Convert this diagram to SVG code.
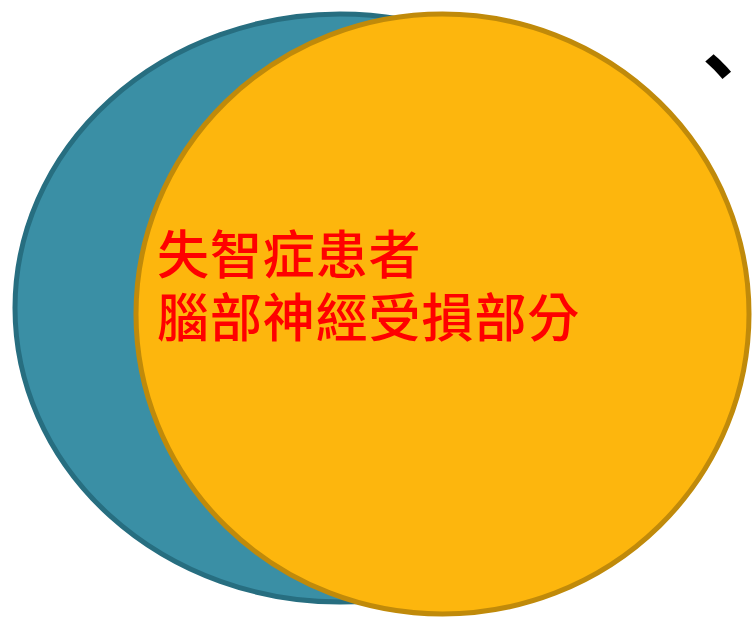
<svg xmlns="http://www.w3.org/2000/svg" width="752" height="619" viewBox="0 0 752 619">
<style>
.label{font-family:"Noto Sans CJK TC","Noto Sans CJK SC",sans-serif;font-weight:500;font-size:52px;letter-spacing:0.9px;fill:#FF0000}
.mark{font-family:"Noto Sans CJK TC","Noto Sans CJK SC",sans-serif;font-weight:bold;font-size:80px;fill:#000000}
</style>
<rect width="752" height="619" fill="#FFFFFF"/>
<g id="teal-circle">
<ellipse cx="340" cy="308" rx="325" ry="294" fill="#3A8FA5" stroke="#276E80" stroke-width="5"/>
</g>
<g id="orange-circle">
<ellipse cx="442.5" cy="314" rx="306.5" ry="300" fill="#FDB60D" stroke="#C08A0A" stroke-width="5"/>
<text class="label" x="157" y="274">失智症患者</text>
<text class="label" x="157" y="337">腦部神經受損部分</text>
</g>
<g id="connectors"></g>
<text class="mark" x="678" y="96">、</text>
</svg>
